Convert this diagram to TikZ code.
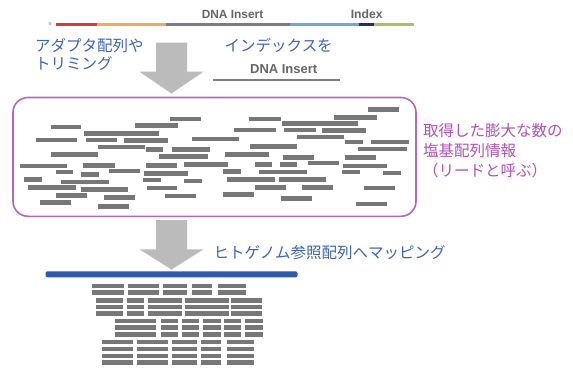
\documentclass[tikz,border=0pt]{standalone}
\usepackage{fontspec}
\setmainfont{Liberation Sans}
\newfontfamily\jp{Noto Sans CJK JP}
\definecolor{seqred}{HTML}{D63A3A}
\definecolor{seqorange}{HTML}{F0AA5C}
\definecolor{seqgray}{HTML}{7C7C86}
\definecolor{seqblue}{HTML}{6EA8D8}
\definecolor{seqnavy}{HTML}{2A2A66}
\definecolor{seqgreen}{HTML}{A8C25C}
\definecolor{labelgray}{HTML}{666666}
\definecolor{jpblue}{HTML}{3D63B4}
\definecolor{jppurple}{HTML}{B050B4}
\definecolor{boxpurple}{HTML}{B466B8}
\definecolor{readgray}{HTML}{777777}
\definecolor{arrowgray}{HTML}{BBBBBB}
\definecolor{refblue}{HTML}{2F5AA8}
\begin{document}
\begin{tikzpicture}[x=1pt,y=-1pt,
  jplabel/.style={anchor=west,inner sep=0pt,font=\jp\fontsize{15.5}{17}\selectfont},
  seglabel/.style={inner sep=0pt,text=labelgray},
  seg/.style={line width=2.6pt},
  bigarrow/.style={fill=arrowgray,draw=none},
  read/.style={fill=readgray}]
\useasboundingbox (0,0) rectangle (573,367);

% top construct
\draw[seg,seqred]    (56,24.7) -- (96.7,24.7);
\draw[seg,seqorange] (96.7,24.7) -- (166,24.7);
\draw[seg,seqgray]   (166,24.7) -- (290,24.7);
\draw[seg,seqblue]   (290,24.7) -- (359.3,24.7);
\draw[seg,seqnavy]   (359.3,24.7) -- (374,24.7);
\draw[seg,seqgreen]  (374,24.7) -- (414.3,24.7);
\node[seglabel,font=\fontsize{4.5}{5}\selectfont] (five) at (50.5,23.5) {5'};
\node[seglabel,font=\bfseries\fontsize{11.9}{14}\selectfont] (dnatop) at (232.5,14) {DNA Insert};
\node[seglabel,font=\bfseries\fontsize{12.2}{14}\selectfont] (index) at (366.7,14) {Index};

% texts
\node[jplabel,text=jpblue] (adapt1) at (35,45.7) {アダプタ配列や};
\node[jplabel,text=jpblue] (adapt2) at (35,63.3) {トリミング};
\node[jplabel,text=jpblue] (idx) at (224.5,45.7) {インデックスを};
\node[seglabel,font=\bfseries\fontsize{13}{15}\selectfont] (dnains) at (283.7,69.3) {DNA Insert};
\draw[seqgray,line width=2.7pt] (212.8,80) coordinate (insL) -- (340,80) coordinate (insR);

% arrow 1
\fill[bigarrow] (156,42.7) -- (187,42.7) -- (187,71.7) -- (203.5,71.7) -- (171.5,93.5) -- (139.5,71.7) -- (156,71.7) -- cycle;

% read box
\draw[boxpurple,line width=1.6pt,rounded corners=15pt] (13,97.5) rectangle (416,216.3);
\coordinate (boxne) at (416,97.5);
\foreach \a/\b/\y in {
 170/200.7/119, 50.7/81/127, 135/178/125.3, 84/159/133.3, 35.7/77/140, 86/117/140,
 124/168/140.3, 192/239/139, 98/145/147, 146/163/149.7, 172/210/149.7, 51/98/154.3,
 159/207.7/156.7, 20/66.7/166, 83/115/165.3, 146/177/165.3, 184/227.7/164.7,
 56/73/172, 81/99/174.3, 109/140/171, 144/188/173.7, 24/41.7/179.3, 60.7/109/182,
 143/160.7/180, 184/201.7/181, 28/76/187.3, 81/128/189.3, 146.7/177/188,
 56/87/195.3, 104/135/197.3, 165/195.7/196, 40/71/202.3, 97.7/129/206.3,
 249/281/119, 334/376.7/117.3, 282/358/123.7, 234/276/130, 284/316/130,
 322/366/130.7, 297/344/137, 345/363/142, 371/409/142, 250/297/146.7,
 358/406.7/149, 225/269/154.7, 282.7/314/157.3, 345/376/157.3, 255/272/164.3,
 279.7/297/164.3, 308/339/163, 343/387/166, 222.7/240.7/171.3, 259/307/172,
 341.7/360/172, 383/400.7/173, 226.7/275/179.3, 279/326/179.3, 255/286/187.3,
 302/333/187.3, 364/395/188, 222.7/254/194.7, 280.7/311.7/198.7, 356/386.7/204,
 368/399/109.7}
 \fill[read] (\a,\y-2.4) rectangle (\b,\y+2.4);

\node[jplabel,text=jppurple] (info1) at (423,131) {取得した膨大な数の};
\node[jplabel,text=jppurple] (info2) at (423,151) {塩基配列情報};
\node[jplabel,text=jppurple] (info3) at (423,170.5) {（リードと呼ぶ）};

% arrow 2
\fill[bigarrow] (156,220) -- (187,220) -- (187,249.3) -- (203.5,249.3) -- (171.5,269.5) -- (139.5,249.3) -- (156,249.3) -- cycle;
\node[jplabel,text=jpblue] (map) at (213.5,252.7) {ヒトゲノム参照配列へマッピング};

% reference
\fill[refblue,rounded corners=2pt] (45.5,271.3) rectangle (297.5,277.3);

% mapped reads
\foreach \y in {286,292.7}
 \foreach \a/\b in {92.3/124,127.7/159.3,163.3/187.3,191.7/212.3,218.3/245.7}
  \fill[read] (\a,\y-2.4) rectangle (\b,\y+2.4);
\foreach \y in {300.5,307,313.5}
 \foreach \a/\b in {96/122.7,126.7/144.3,148.3/182.3,185/229,231/262}
  \fill[read] (\a,\y-2.4) rectangle (\b,\y+2.4);
\foreach \y in {321,327.7,334.3}
 \foreach \a/\b in {115/155.7,160.7/178.3,181.7/199.3,203.3/220.7,224/241,245/262.7}
  \fill[read] (\a,\y-2.4) rectangle (\b,\y+2.4);
\foreach \y in {342,349,355.9,362.6}
 \foreach \a/\b in {101.7/133.3,137.3/168.3,171.7/196.5,200.7/220.7,227.3/254.3}
  \fill[read] (\a,\y-2.4) rectangle (\b,\y+2.4);
\end{tikzpicture}
\end{document}
